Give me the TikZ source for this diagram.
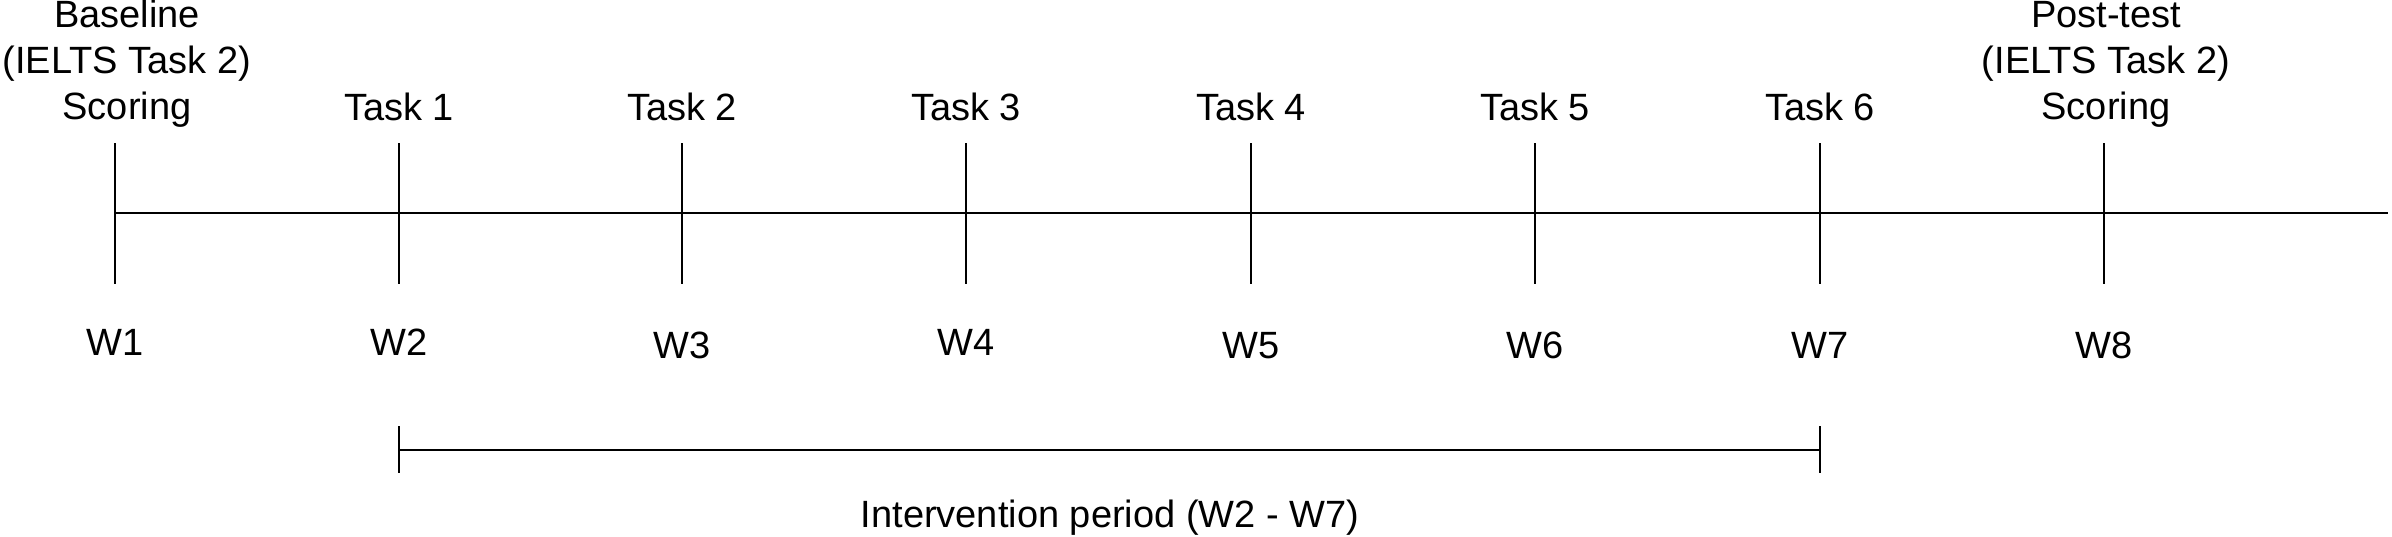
\documentclass[tikz,border=0pt]{standalone}
\usepackage{fontspec}
\setmainfont{Liberation Sans}
\begin{document}
\begin{tikzpicture}[x=0.5pt,y=-0.5pt,
  lbl/.style={inner sep=0pt, font=\fontsize{19}{23}\selectfont, text=black},
  tick/.style={line width=1.25pt},
  axis/.style={line width=1pt},
  brk/.style={line width=1pt},
  brktick/.style={line width=0.85pt}]
\useasboundingbox (0,0) rectangle (2392,536);
% tick endpoints
\foreach \i/\x in {1/115,2/399,3/682,4/966,5/1251,6/1535,7/1820,8/2104}{
  \coordinate (t\i) at (\x,143);
  \coordinate (b\i) at (\x,284);
  \coordinate (m\i) at (\x,213);
}
\coordinate (axend) at (2388,213);
\draw[axis] (m1) -- (axend);
\foreach \i in {1,...,8}{\draw[tick] (t\i) -- (b\i);}
% top labels
\node[lbl, align=center, anchor=south] (lab1) at (127,128) {Baseline\\(IELTS Task 2)\\Scoring};
\node[lbl, anchor=base] (lab2) at (399,120) {Task 1};
\node[lbl, anchor=base] (lab3) at (682,120) {Task 2};
\node[lbl, anchor=base] (lab4) at (966,120) {Task 3};
\node[lbl, anchor=base] (lab5) at (1251,120) {Task 4};
\node[lbl, anchor=base] (lab6) at (1535,120) {Task 5};
\node[lbl, anchor=base] (lab7) at (1820,120) {Task 6};
\node[lbl, align=center, anchor=south] (lab8) at (2106,128) {Post-test\\(IELTS Task 2)\\Scoring};
% week labels
\node[lbl, anchor=base] (w1) at (115,355) {W1};
\node[lbl, anchor=base] (w2) at (399,355) {W2};
\node[lbl, anchor=base] (w3) at (682,358) {W3};
\node[lbl, anchor=base] (w4) at (966,355) {W4};
\node[lbl, anchor=base] (w5) at (1251,358) {W5};
\node[lbl, anchor=base] (w6) at (1535,358) {W6};
\node[lbl, anchor=base] (w7) at (1820,358) {W7};
\node[lbl, anchor=base] (w8) at (2104,358) {W8};
% intervention bracket
\coordinate (ps) at (399,450);
\coordinate (pe) at (1820,450);
\coordinate (pst) at (399,426);
\coordinate (psb) at (399,473);
\coordinate (pet) at (1820,426);
\coordinate (peb) at (1820,473);
\draw[brk] (ps) -- (pe);
\draw[brktick] (pst) -- (psb);
\draw[brktick] (pet) -- (peb);
\node[lbl, anchor=base] (iv) at (1110,527) {Intervention period (W2 - W7)};
\end{tikzpicture}
\end{document}
